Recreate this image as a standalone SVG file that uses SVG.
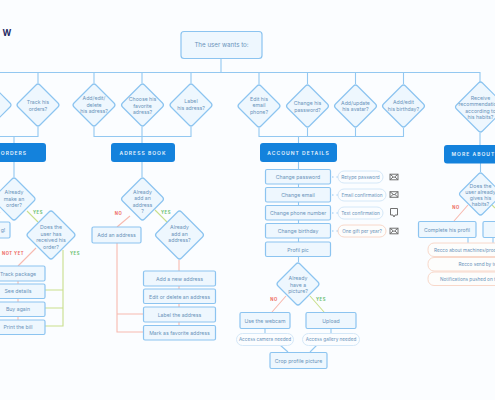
<svg xmlns="http://www.w3.org/2000/svg" width="495" height="400" viewBox="0 0 495 400">
<style>
text{font-family:"Inter","Noto Sans",sans-serif;font-size:5.200px;fill:#6a93ba;text-anchor:middle}
.sm{font-size:4.700px}
.n{fill:#eef7fe;stroke:#8cc4f0;stroke-width:1.200;stroke-linejoin:round}
.p{fill:#fbfdff;stroke:#d5e8f8;stroke-width:1}
.pr{fill:#fdfdfc;stroke:#f8d8ca;stroke-width:1}
.h{fill:#1482dc}
.ht{fill:#e6f3fd;font-size:5px;font-weight:600;letter-spacing:1px}
.b{fill:none;stroke:#93c8f1;stroke-width:1.100}
.r{fill:none;stroke:#f7bab0;stroke-width:1.100}
.g{fill:none;stroke:#c9df8c;stroke-width:1.100}
.rl{fill:#ee6a5f;font-size:4.200px;font-weight:700;letter-spacing:.5px}
.gl{fill:#6cc070;font-size:4.200px;font-weight:700;letter-spacing:.5px}
.i{fill:none;stroke:#707070;stroke-width:1}
</style>
<defs>
<path id="d22" d="M-2,-20 Q0,-22 2,-20 L20,-2 Q22,0 20,2 L2,20 Q0,22 -2,20 L-20,2 Q-22,0 -20,-2 Z"/>
<path id="d25" d="M-2,-23 Q0,-25 2,-23 L23,-2 Q25,0 23,2 L2,23 Q0,25 -2,23 L-23,2 Q-25,0 -23,-2 Z"/>
<path id="d26" d="M-2,-24 Q0,-26 2,-24 L24,-2 Q26,0 24,2 L2,24 Q0,26 -2,24 L-24,2 Q-26,0 -24,-2 Z"/>
<g id="env"><rect x="-4" y="-2.800" width="8" height="5.600" class="i"/><path d="M-4,-2.800 L0,.5 L4,-2.800 M-4,2.800 L-1,0 M4,2.800 L1,0" class="i"/></g>
</defs>
<rect width="495" height="400" fill="#fbfdff"/>
<text x="6.800" y="36" style="font-size:8.500px;font-weight:700;fill:#1f2a63">W</text>

<g id="connectors">
<path class="b" d="M221,58V72.500 M0,72.500H480V82 M38,72.500V83 M94,72.500V83 M142,72.500V83 M191,72.500V83 M259,72.500V84 M307.500,72.500V84 M355.500,72.500V84 M403.500,72.500V84"/>
<path class="b" d="M0,136.500H38V127 M14,136.500V143 M94,127V136.500H191V127 M142,127V143 M259,128V136.500H403.500V128 M307.500,128V136.500 M355.500,128V136.500 M298.500,136.500V143 M480,133V145"/>
<path class="b" d="M14,162V177 M142,162V177 M298.500,162V262 M480.500,163V172"/>
<path class="g" d="M27,211L38,222 M63,250V326H45 M63,290H45 M63,308H45 M155,210L167,222 M492,205L495,208"/>
<path class="g" stroke-width="1.500" d="M310,296L324,312"/>
<path class="r" d="M36,248L18,266 M18,280V320 M0,212L-6,222 M130,216L117,227 M117,243V332H143 M117,314H143 M179,260V271 M179,286V325 M286,296L272,312 M468,205L454,221"/>
<path class="b" d="M280,345L288,352 M317,345L310,352 M265,328V333 M331,328V333 M468,237V243 M493,237V243"/>
<path class="b" stroke-dasharray="1.500 3" d="M332,177H338 M332,195H338 M332,213H338 M332,231H338"/>
</g>

<g id="top"><rect class="n" x="181" y="31.500" width="81" height="27" rx="3"/><text x="221.500" y="47" style="font-size:6.200px">The user wants to:</text></g>

<g id="d-partial"><use href="#d22" class="n" x="-10" y="105"/></g>
<g id="d-track"><use href="#d22" class="n" x="38" y="105"/><text x="38" y="104">Track his</text><text x="38" y="110.500">orders?</text></g>
<g id="d-addr"><use href="#d22" class="n" x="94" y="105"/><text x="94" y="100">Add/edit/</text><text x="94" y="106.500">delete</text><text x="94" y="113">his adress?</text></g>
<g id="d-fav"><use href="#d22" class="n" x="142.500" y="105"/><text x="142.500" y="101">Choose his</text><text x="142.500" y="107.500">favorite</text><text x="142.500" y="114">adress?</text></g>
<g id="d-label"><use href="#d22" class="n" x="191" y="105"/><text x="191" y="103">Label</text><text x="191" y="109.500">his adress?</text></g>
<g id="d-email"><use href="#d22" class="n" x="259" y="106"/><text x="259" y="100.500">Edit his</text><text x="259" y="107">email</text><text x="259" y="113.500">phone?</text></g>
<g id="d-pass"><use href="#d22" class="n" x="307.500" y="106"/><text x="307.500" y="105">Change his</text><text x="307.500" y="111.500">password?</text></g>
<g id="d-avatar"><use href="#d22" class="n" x="355.500" y="106"/><text x="355.500" y="104.500">Add/update</text><text x="355.500" y="111">his avatar?</text></g>
<g id="d-birth"><use href="#d22" class="n" x="403.500" y="106"/><text x="403.500" y="104">Add/edit</text><text x="403.500" y="110.500">his birthday?</text></g>
<g id="d-reco"><use href="#d26" class="n" x="480.500" y="107"/><text x="480.500" y="100">Receive</text><text x="480.500" y="106">recommendations</text><text x="480.500" y="112.500">according to</text><text x="480.500" y="119">his habits?</text></g>

<g id="h-orders"><rect class="h" x="-20" y="143" width="66" height="19" rx="3"/><text class="ht" x="14" y="154.500">ORDERS</text></g>
<g id="h-book"><rect class="h" x="111" y="143" width="64" height="19" rx="3"/><text class="ht" x="143" y="154.500">ADRESS BOOK</text></g>
<g id="h-account"><rect class="h" x="260" y="143" width="77" height="19" rx="3"/><text class="ht" x="298.500" y="154.500">ACCOUNT DETAILS</text></g>
<g id="h-more"><rect class="h" x="444" y="145" width="70" height="18.500" rx="3"/><text class="ht" x="451.500" y="156" style="text-anchor:start">MORE ABOUT</text></g>

<g id="d-make"><use href="#d22" class="n" x="14" y="199"/><text x="14" y="194">Already</text><text x="14" y="200.500">make an</text><text x="14" y="207">order?</text></g>
<g id="n-left"><rect class="n" x="-30" y="222" width="40" height="16" rx="1.500"/><text x="3" y="232">g!</text></g>
<g id="d-received"><use href="#d25" class="n" x="51" y="235"/><text x="51" y="229">Does the</text><text x="51" y="235.500">user has</text><text x="51" y="242">received his</text><text x="51" y="248.500">order?</text></g>
<g id="n-track"><rect class="n" x="-10" y="266" width="55" height="15" rx="1.500"/><text x="18" y="275.500">Track package</text></g>
<g id="n-see"><rect class="n" x="-10" y="284" width="55" height="14.500" rx="1.500"/><text x="18" y="293">See details</text></g>
<g id="n-buy"><rect class="n" x="-10" y="302" width="55" height="14.500" rx="1.500"/><text x="18" y="311">Buy again</text></g>
<g id="n-print"><rect class="n" x="-10" y="320" width="55" height="14.500" rx="1.500"/><text x="18" y="329">Print the bill</text></g>

<g id="d-added"><use href="#d22" class="n" x="142.500" y="199"/><text x="142.500" y="194">Already</text><text x="142.500" y="200">add an</text><text x="142.500" y="206.500">address</text><text x="142.500" y="212.500">?</text></g>
<g id="n-addaddr"><rect class="n" x="92" y="227" width="49" height="16" rx="1.500"/><text x="116.500" y="237">Add an address</text></g>
<g id="d-added2"><use href="#d25" class="n" x="179.500" y="235"/><text x="179.500" y="229">Already</text><text x="179.500" y="235.500">add an</text><text x="179.500" y="242">address?</text></g>
<g id="n-new"><rect class="n" x="143.500" y="271" width="72" height="15" rx="1.500"/><text x="179.500" y="280.500">Add a new address</text></g>
<g id="n-edit"><rect class="n" x="143.500" y="289" width="72" height="14.500" rx="1.500"/><text x="179.500" y="298.500">Edit or delete an address</text></g>
<g id="n-lab"><rect class="n" x="143.500" y="307" width="72" height="15" rx="1.500"/><text x="179.500" y="316.500">Label the address</text></g>
<g id="n-mark"><rect class="n" x="143.500" y="325.500" width="72" height="14.500" rx="1.500"/><text x="179.500" y="334.500">Mark as favorite address</text></g>

<g id="n-cpass"><rect class="n" x="265.500" y="169.500" width="65" height="14.500" rx="1.500"/><text x="298" y="179">Change password</text></g>
<g id="n-cemail"><rect class="n" x="265.500" y="187.500" width="65" height="14.500" rx="1.500"/><text x="298" y="197">Change email</text></g>
<g id="n-cphone"><rect class="n" x="265.500" y="205.500" width="65" height="14.500" rx="1.500"/><text x="298" y="215">Change phone number</text></g>
<g id="n-cbirth"><rect class="n" x="265.500" y="223.500" width="65" height="14.500" rx="1.500"/><text x="298" y="233">Change birthday</text></g>
<g id="n-pic"><rect class="n" x="265.500" y="242" width="65" height="14.500" rx="1.500"/><text x="298" y="251.500">Profil pic</text></g>
<g id="p-retype"><rect class="p" x="338" y="171" width="45" height="12" rx="6"/><text class="sm" x="360.500" y="178.800">Retype password</text><use href="#env" x="394" y="177"/></g>
<g id="p-emailc"><rect class="p" x="338" y="189" width="48" height="12" rx="6"/><text class="sm" x="362" y="196.800">Email confirmation</text><use href="#env" x="394" y="194.500"/></g>
<g id="p-text"><rect class="p" x="338" y="207" width="45" height="12" rx="6"/><text class="sm" x="360.500" y="214.800">Text confirmation</text><path class="i" d="M390.500,208.500H397.500V215H395L394,217L393,215H390.500Z"/></g>
<g id="p-gift"><rect class="pr" x="338" y="225" width="48" height="12" rx="6"/><text class="sm" x="362" y="232.800">One gift per year?</text><use href="#env" x="394" y="231"/></g>
<g id="d-havepic"><use href="#d22" class="n" x="298" y="284"/><text x="298" y="280">Already</text><text x="298" y="286.500">have a</text><text x="298" y="293">picture?</text></g>
<g id="n-webcam"><rect class="n" x="240" y="312.500" width="50" height="16" rx="1.500"/><text x="265" y="322.500">Use the webcam</text></g>
<g id="n-upload"><rect class="n" x="306" y="312.500" width="50" height="16" rx="1.500"/><text x="331" y="322.500">Upload</text></g>
<g id="p-cam"><rect class="p" x="236.500" y="333.500" width="57" height="12" rx="6"/><text class="sm" x="265" y="341.300">Access camera needed</text></g>
<g id="p-gal"><rect class="p" x="302.500" y="333.500" width="57" height="12" rx="6"/><text class="sm" x="331" y="341.300">Access gallery needed</text></g>
<g id="n-crop"><rect class="n" x="270" y="352.500" width="57" height="16" rx="1.500"/><text x="298.500" y="362.500">Crop profile picture</text></g>

<g id="d-habits"><use href="#d22" class="n" x="480.500" y="194"/><text x="480.500" y="187.500">Does the</text><text x="480.500" y="193.500">user already</text><text x="480.500" y="199.500">gives his</text><text x="480.500" y="205.500">habits?</text></g>
<g id="n-complete"><rect class="n" x="418.500" y="221.500" width="57.500" height="16" rx="1.500"/><text x="447" y="231.500">Complete his profil</text></g>
<g id="n-right"><rect class="n" x="483" y="221.500" width="40" height="16" rx="1.500"/></g>
<g id="p-r1"><rect class="pr" x="428" y="243" width="90" height="13.500" rx="6"/><text class="sm" x="434" y="251.500" style="text-anchor:start">Recco about machines/products</text></g>
<g id="p-r2"><rect class="pr" x="428" y="257.500" width="90" height="13.500" rx="6"/><text class="sm" x="458.500" y="266" style="text-anchor:start">Recco send by text</text></g>
<g id="p-r3"><rect class="pr" x="428" y="272" width="90" height="13.500" rx="6"/><text class="sm" x="440" y="280.500" style="text-anchor:start">Notifications pushed on the app</text></g>

<g id="labels">
<text class="gl" x="38" y="214">YES</text>
<text class="rl" x="13" y="255">NOT YET</text>
<text class="gl" x="75" y="255">YES</text>
<text class="rl" x="118.500" y="215">NO</text>
<text class="gl" x="166" y="214">YES</text>
<text class="rl" x="274" y="300.500">NO</text>
<text class="gl" x="321" y="301">YES</text>
<text class="rl" x="456" y="209">NO</text>
</g>
</svg>
